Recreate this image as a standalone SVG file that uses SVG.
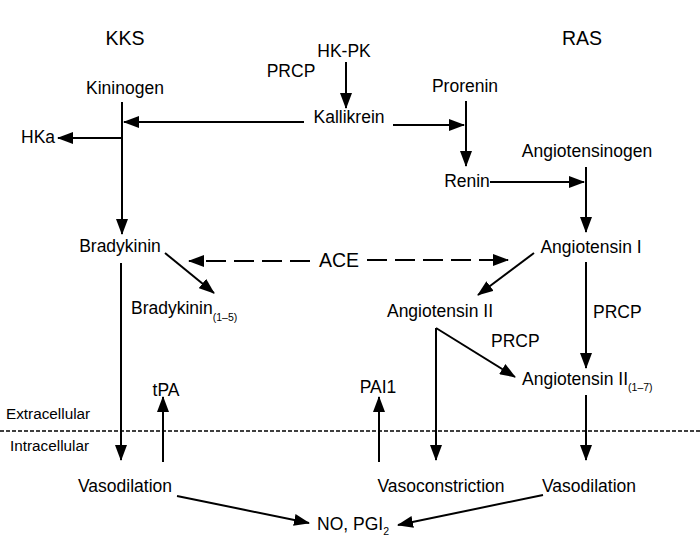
<svg xmlns="http://www.w3.org/2000/svg" width="700" height="540" viewBox="0 0 700 540">
<style>
text{font-family:"Liberation Sans",Arial,sans-serif;font-size:17.5px;fill:#000}
.t{font-size:19.5px}
.s{font-size:15.3px}
.sub{font-size:10.5px}
.c{text-anchor:middle}
.ln{stroke:#000;stroke-width:2;fill:none}
.ar{marker-end:url(#ah)}
.dash{stroke-dasharray:20 8}
.mem{stroke:#000;stroke-width:1.5;stroke-dasharray:4 2}
</style>
<defs>
<marker id="ah" markerUnits="userSpaceOnUse" markerWidth="16" markerHeight="12" refX="15" refY="6" orient="auto">
<path d="M0,0 L16,6 L0,12 z" fill="#000"/>
</marker>
</defs>
<rect width="700" height="540" fill="#fff"/>
<g id="labels">
<text id="kks" class="t c" x="125" y="45">KKS</text>
<text id="ras" class="t c" x="582" y="45">RAS</text>
<text id="prcp-top" class="c" x="291" y="77">PRCP</text>
<text id="prcp-right" x="593" y="318">PRCP</text>
<text id="prcp-mid" x="491" y="347">PRCP</text>
<text id="extracellular" class="s" x="6" y="419">Extracellular</text>
<text id="intracellular" class="s" x="10" y="451">Intracellular</text>
</g>
<g id="n-hkpk"><text class="c" x="344" y="57">HK-PK</text></g>
<g id="n-kininogen"><text class="c" x="125" y="94">Kininogen</text></g>
<g id="n-kallikrein"><text class="c" x="349" y="123">Kallikrein</text></g>
<g id="n-prorenin"><text class="c" x="465" y="92">Prorenin</text></g>
<g id="n-hka"><text x="21" y="143">HKa</text></g>
<g id="n-angiotensinogen"><text class="c" x="587" y="157">Angiotensinogen</text></g>
<g id="n-renin"><text class="c" x="467" y="187">Renin</text></g>
<g id="n-bradykinin"><text class="c" x="120" y="252">Bradykinin</text></g>
<g id="n-ace"><text class="t c" x="339" y="267">ACE</text></g>
<g id="n-angiotensin1"><text class="c" x="591" y="253">Angiotensin I</text></g>
<g id="n-bradykinin15"><text x="131" y="314">Bradykinin<tspan class="sub" dy="7">(1–5)</tspan></text></g>
<g id="n-angiotensin2"><text class="c" x="440" y="317">Angiotensin II</text></g>
<g id="n-angiotensin17"><text x="522" y="385">Angiotensin II<tspan class="sub" dy="6">(1–7)</tspan></text></g>
<g id="n-tpa"><text class="c" x="166" y="396">tPA</text></g>
<g id="n-pai1"><text class="c" x="378" y="393">PAI1</text></g>
<g id="n-vasodilation-l"><text class="c" x="125" y="492">Vasodilation</text></g>
<g id="n-vasoconstriction"><text class="c" x="441" y="492">Vasoconstriction</text></g>
<g id="n-vasodilation-r"><text class="c" x="589" y="492">Vasodilation</text></g>
<g id="n-no"><text x="317" y="530">NO, PGI<tspan class="sub" dy="5">2</tspan></text></g>
<g id="connectors">
<line class="ln ar" x1="346" y1="62" x2="346" y2="108"/>
<line class="ln ar" x1="304" y1="122" x2="124" y2="122"/>
<line class="ln ar" x1="393" y1="125" x2="464" y2="125"/>
<line class="ln ar" x1="122" y1="102" x2="122" y2="234"/>
<line class="ln ar" x1="122" y1="138" x2="58" y2="138"/>
<line class="ln ar" x1="466" y1="101" x2="466" y2="166"/>
<line class="ln ar" x1="490" y1="182" x2="584" y2="182"/>
<line class="ln ar" x1="586" y1="167" x2="586" y2="232"/>
<line class="ln dash ar" x1="310" y1="261" x2="189" y2="261"/>
<line class="ln dash ar" x1="367" y1="260" x2="508" y2="260"/>
<line class="ln ar" x1="165" y1="253" x2="214" y2="293"/>
<line class="ln ar" x1="534" y1="253" x2="478" y2="295"/>
<line class="ln ar" x1="121" y1="263" x2="121" y2="460"/>
<line class="ln ar" x1="586" y1="262" x2="586" y2="368"/>
<line class="ln ar" x1="436" y1="328" x2="436" y2="460"/>
<line class="ln ar" x1="436" y1="328" x2="515" y2="377"/>
<line class="ln ar" x1="586" y1="395" x2="586" y2="460"/>
<line class="ln ar" x1="163" y1="462" x2="163" y2="397"/>
<line class="ln ar" x1="379" y1="462" x2="379" y2="397"/>
<line class="ln ar" x1="177" y1="496" x2="309" y2="523"/>
<line class="ln ar" x1="543" y1="495" x2="398" y2="525"/>
<line class="mem" x1="0" y1="431" x2="700" y2="431"/>
</g>
</svg>
